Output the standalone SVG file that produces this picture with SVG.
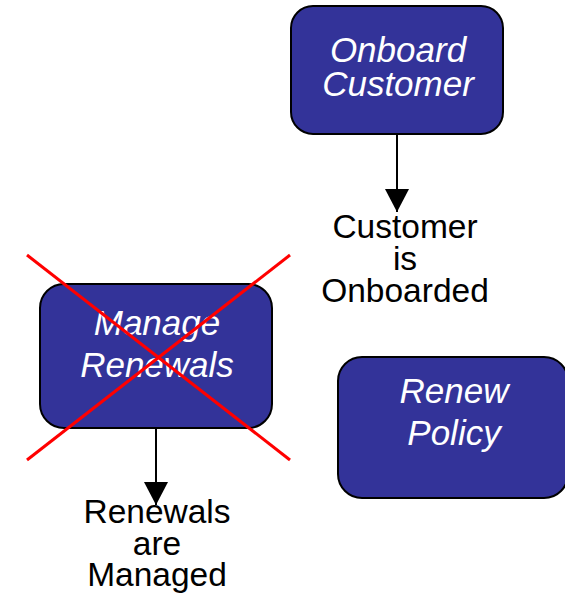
<svg xmlns="http://www.w3.org/2000/svg" width="565" height="593" viewBox="0 0 565 593">
  <style>
    .box { fill: #333399; stroke: #000; stroke-width: 2; }
    .box-label { font-family: "Liberation Sans", Arial, sans-serif; font-style: italic; font-size: 35px; fill: #fff; text-anchor: middle; }
    .state { font-family: "Liberation Sans", Arial, sans-serif; font-size: 33.5px; fill: #000; text-anchor: middle; }
    .flow { stroke: #000; stroke-width: 2; fill: none; marker-end: url(#head); }
    .cross { stroke: #ff0000; stroke-width: 3; }
  </style>
  <defs>
    <marker id="head" markerUnits="userSpaceOnUse" markerWidth="24" markerHeight="24" refX="23" refY="12" orient="auto">
      <path d="M0,0 L23,12 L0,24 Z" fill="#000"/>
    </marker>
  </defs>
  <rect width="565" height="593" fill="#fff"/>

  <g id="onboard-customer">
    <rect class="box" x="291" y="6" width="212" height="128" rx="22" ry="22"/>
    <text class="box-label" x="398" y="62">Onboard</text>
    <text class="box-label" x="398" y="96">Customer</text>
  </g>

  <g id="customer-onboarded">
    <text class="state" x="405" y="238">Customer</text>
    <text class="state" x="405" y="270">is</text>
    <text class="state" x="405" y="302">Onboarded</text>
  </g>

  <g id="manage-renewals">
    <rect class="box" x="40" y="284" width="232" height="144" rx="24" ry="24"/>
    <text class="box-label" x="157" y="335">Manage</text>
    <text class="box-label" x="157" y="377">Renewals</text>
  </g>

  <g id="renewals-managed">
    <text class="state" x="157" y="523">Renewals</text>
    <text class="state" x="157" y="555">are</text>
    <text class="state" x="157" y="586">Managed</text>
  </g>

  <g id="renew-policy">
    <rect class="box" x="338" y="357" width="230" height="141" rx="24" ry="24"/>
    <text class="box-label" x="454" y="403">Renew</text>
    <text class="box-label" x="454" y="445">Policy</text>
  </g>

  <g id="connectors">
    <line class="flow" x1="397" y1="135" x2="397" y2="212"/>
    <line class="flow" x1="156" y1="429" x2="156" y2="505"/>
  </g>

  <g id="strike-out">
    <line class="cross" x1="27" y1="255" x2="290" y2="460"/>
    <line class="cross" x1="290" y1="255" x2="27" y2="460"/>
  </g>
</svg>
